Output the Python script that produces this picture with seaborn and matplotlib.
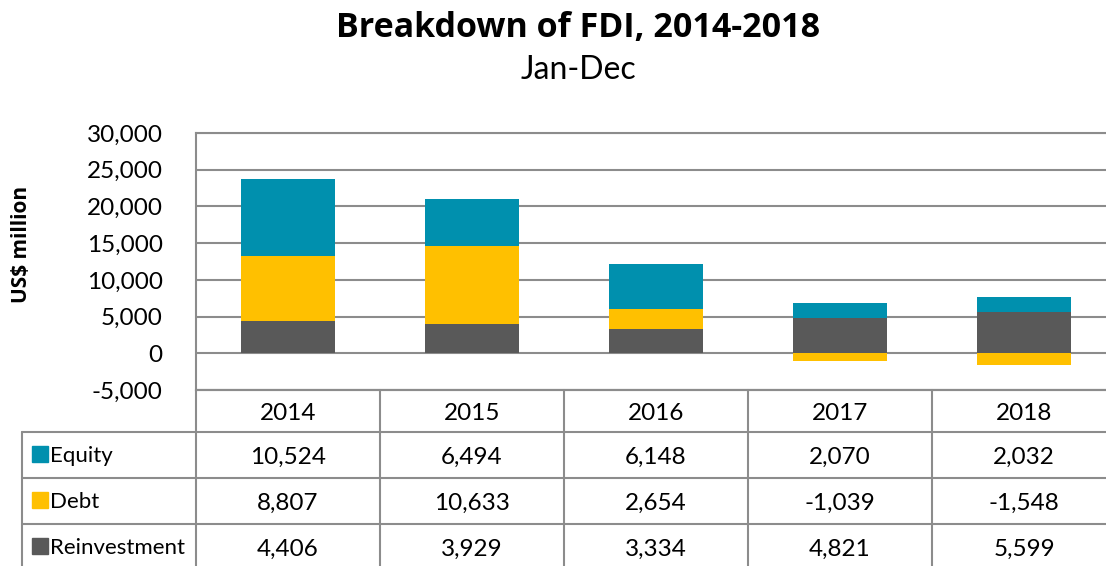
import matplotlib
matplotlib.use("Agg")
import matplotlib.pyplot as plt
import seaborn as sns
import pandas as pd
import numpy as np

years = ["2014", "2015", "2016", "2017", "2018"]
equity = [10524, 6494, 6148, 2070, 2032]
debt = [8807, 10633, 2654, -1039, -1548]
reinvestment = [4406, 3929, 3334, 4821, 5599]
series_names = ["Equity", "Debt", "Reinvestment"]
colors = {"Equity": "#0090AE", "Debt": "#FFC000", "Reinvestment": "#595959"}
yticks = [-5000, 0, 5000, 10000, 15000, 20000, 25000, 30000]

sns.set_style("white")
plt.rcParams['font.family'] = ['Lato', 'DejaVu Sans']
plt.rcParams['text.color'] = '#000000'

W, H = 1106, 566
fig = plt.figure(figsize=(W / 100, H / 100), dpi=100)

# layout in pixels
ax_left, ax_top, ax_bot = 196, 133, 390
col_w = 184
ax_right = ax_left + col_w * len(years)
ax = fig.add_axes([ax_left / W, (H - ax_bot) / H, (ax_right - ax_left) / W, (ax_bot - ax_top) / H])

reinv = np.array(reinvestment)
dbt = np.array(debt)
eq = np.array(equity)
debt_bottom = np.where(dbt >= 0, reinv, 0)
eq_bottom = reinv + np.clip(dbt, 0, None)

df = pd.DataFrame({"year": years, "Equity": eq, "Debt": dbt, "Reinvestment": reinv})

sns.barplot(data=df, x="year", y="Reinvestment", color=colors["Reinvestment"], width=0.51,
            saturation=1, ax=ax, bottom=np.zeros(len(years)), linewidth=0)
sns.barplot(data=df, x="year", y="Debt", color=colors["Debt"], width=0.51,
            saturation=1, ax=ax, bottom=debt_bottom, linewidth=0)
sns.barplot(data=df, x="year", y="Equity", color=colors["Equity"], width=0.51,
            saturation=1, ax=ax, bottom=eq_bottom, linewidth=0)

grid_c = "#8C8C8C"
ax.set_xlim(-0.5, len(years) - 0.5)
ax.set_ylim(-5000, 30000)
ax.set_yticks(yticks)
ax.set_yticklabels([f"{t:,}" for t in yticks], fontsize=17.5, color="#000000")
ax.tick_params(axis="y", length=0, pad=24)
ax.set_xticks([])
ax.set_xlabel("")
ax.set_ylabel("")
ax.yaxis.grid(True, color=grid_c, linewidth=1.5)
ax.set_axisbelow(True)
for s in ["left", "top", "bottom"]:
    ax.spines[s].set_color(grid_c)
    ax.spines[s].set_linewidth(1.5)
ax.spines["right"].set_visible(False)

fig.text(22 / W, 1 - 244 / H, "US$ million", rotation=90, ha="center", va="center",
         fontsize=15, fontweight="bold", family=["Open Sans", "DejaVu Sans"])

# titles
fig.text(578 / W, 1 - 28 / H, "Breakdown of FDI, 2014-2018", ha="center", va="center",
         fontsize=24.5, fontweight="bold", family=["Open Sans", "DejaVu Sans"])
fig.text(578 / W, 1 - 70 / H, "Jan-Dec", ha="center", va="center", fontsize=23)

# data table
tab_left = 22
tax = fig.add_axes([tab_left / W, 0, (ax_right - tab_left) / W, (H - ax_bot) / H])
tax.set_xlim(tab_left, ax_right)
tax.set_ylim(H, ax_bot)
tax.axis("off")
row_edges = [ax_bot, 432, 478, 524, 570]
lw = 1.5
tax.plot([ax_left, ax_right], [ax_bot, ax_bot], color=grid_c, lw=lw, clip_on=False)
for y in row_edges[1:-1]:
    tax.plot([tab_left, ax_right], [y, y], color=grid_c, lw=lw, clip_on=False)
tax.plot([tab_left, tab_left], [row_edges[1], H], color=grid_c, lw=lw, clip_on=False)
for i in range(len(years) + 1):
    x = ax_left + i * col_w
    tax.plot([x, x], [ax_bot, H], color=grid_c, lw=lw, clip_on=False)

for i, yr in enumerate(years):
    tax.text(ax_left + (i + 0.5) * col_w, (row_edges[0] + row_edges[1]) / 2 + 2, yr,
             ha="center", va="center", fontsize=17.5)

values = {"Equity": equity, "Debt": debt, "Reinvestment": reinvestment}
for r, name in enumerate(series_names):
    yc = (row_edges[r + 1] + row_edges[r + 2]) / 2 if r < 2 else 547
    tax.plot([40], [yc - 1], marker="s", markersize=11, color=colors[name], clip_on=False)
    tax.text(50, yc + 1, name, ha="left", va="center", fontsize=16)
    for i, v in enumerate(values[name]):
        tax.text(ax_left + (i + 0.5) * col_w, yc + 2, f"{v:,}", ha="center", va="center", fontsize=17.5)

fig.savefig("out.png", dpi=100)
